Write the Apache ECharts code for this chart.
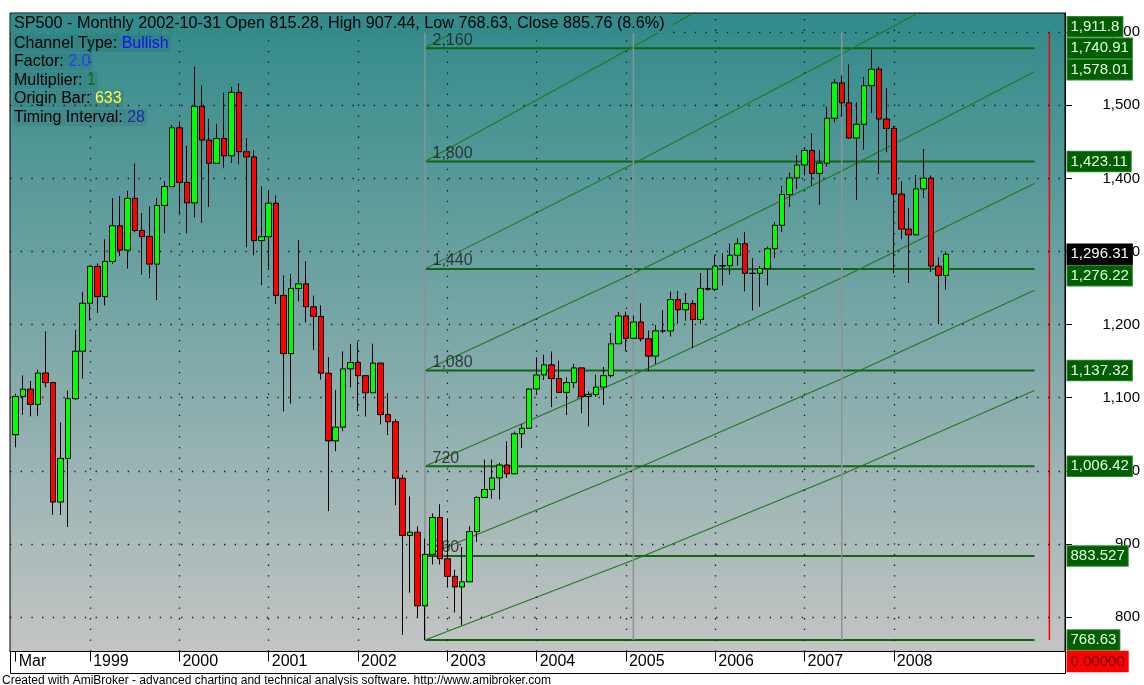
<!DOCTYPE html>
<html><head><meta charset="utf-8">
<script src="https://cdn.jsdelivr.net/npm/echarts@6/dist/echarts.min.js"></script>
<style>html,body{margin:0;padding:0;background:#fff;}#c{width:1144px;height:685px;}</style>
</head><body><div id="c"></div>
<script>
// ---- data (monthly SP500 bars, Mar 1998 .. Aug 2008; x = bar index) ----
const opens = [1049.34,1101.75,1111.75,1090.82,1133.84,1120.67,957.28,1017.01,1098.67,1163.63,
 1229.23,1279.64,1238.33,1286.37,1335.18,1301.84,1372.71,1328.72,1320.41,1282.71,1362.93,1388.91,
 1469.25,1394.46,1366.42,1498.58,1452.43,1420.60,1454.60,1430.83,1517.68,1436.51,1429.40,1314.95,
 1320.28,1366.01,1239.94,1160.33,1249.46,1255.82,1224.42,1211.23,1133.58,1040.94,1059.78,1139.45,
 1148.08,1130.20,1106.73,1147.39,1076.92,1067.14,989.82,911.62,916.07,815.28,885.76,936.31,
 879.82,855.70,841.15,848.18,916.92,963.59,974.50,990.31,1008.01,995.97,1050.71,1058.20,
 1111.92,1131.13,1144.94,1126.21,1107.30,1120.68,1140.84,1101.72,1104.24,1114.58,1130.20,1173.82,
 1211.92,1181.27,1203.60,1180.59,1156.85,1191.50,1191.33,1234.18,1220.33,1228.81,1207.01,1249.48,
 1248.29,1280.08,1280.66,1294.87,1310.61,1270.09,1270.20,1276.66,1303.82,1335.85,1377.94,1400.63,
 1418.30,1438.24,1406.82,1420.86,1482.37,1530.62,1503.35,1455.27,1473.99,1526.75,1549.38,1481.14,
 1468.36,1378.55,1330.63,1322.70,1385.59,1400.38,1280.00,1267.38];
const highs = [1105.65,1130.52,1123.01,1138.49,1190.58,1121.61,1066.11,1109.59,1192.97,1244.93,
 1280.37,1283.75,1316.55,1372.93,1375.98,1383.01,1420.33,1352.66,1361.63,1373.17,1396.12,1473.10,
 1478.00,1444.55,1552.87,1527.19,1481.51,1474.63,1517.32,1525.21,1530.09,1454.82,1438.46,1389.06,
 1383.37,1376.38,1267.42,1269.30,1315.93,1286.62,1239.78,1226.27,1155.40,1110.61,1163.38,1173.62,
 1176.55,1130.20,1173.94,1147.84,1106.59,1070.74,994.46,965.00,924.02,907.44,941.82,954.28,
 935.05,864.64,895.90,924.24,965.38,1015.33,1015.41,1011.01,1040.29,1053.79,1063.65,1112.56,
 1155.38,1158.98,1163.23,1150.57,1127.74,1146.34,1140.84,1108.60,1131.54,1142.05,1188.46,1217.33,
 1217.80,1212.44,1229.11,1191.88,1199.56,1219.59,1245.15,1245.86,1243.13,1233.34,1270.64,1275.80,
 1294.90,1297.57,1310.88,1318.16,1326.70,1290.68,1280.42,1306.74,1340.28,1389.45,1407.89,1431.81,
 1441.61,1461.57,1438.89,1498.02,1535.56,1540.56,1555.90,1503.89,1538.74,1576.09,1552.76,1523.57,
 1471.77,1396.02,1359.68,1404.57,1440.24,1404.05,1292.17,1300.00];
const lows = [1032.10,1076.70,1074.39,1074.67,1114.30,939.98,939.71,923.32,1096.85,1126.10,
 1205.46,1216.03,1226.24,1282.79,1293.72,1276.75,1326.28,1268.37,1263.47,1233.70,1325.02,1387.38,
 1350.14,1325.07,1346.62,1339.40,1361.09,1420.60,1413.89,1421.06,1419.44,1305.79,1294.90,1254.07,
 1274.62,1228.33,1081.19,1091.99,1232.00,1203.03,1165.54,1124.87,944.75,1026.76,1054.31,1114.19,
 1081.66,1074.36,1106.73,1063.46,1048.96,952.92,775.68,833.44,800.20,768.63,872.05,871.84,
 840.34,806.29,788.90,847.85,902.83,963.59,962.10,960.84,990.36,995.97,1031.20,1058.20,
 1105.08,1124.44,1087.16,1107.23,1076.32,1113.32,1078.78,1060.72,1101.29,1090.19,1127.60,1173.76,
 1163.75,1180.95,1176.92,1136.15,1146.18,1188.30,1183.55,1201.07,1205.35,1168.20,1201.07,1246.59,
 1245.74,1253.61,1268.42,1280.74,1245.34,1219.29,1224.54,1253.58,1290.93,1327.10,1360.98,1385.93,
 1403.97,1389.42,1363.98,1416.37,1476.70,1484.18,1454.25,1370.60,1439.29,1489.56,1406.10,1435.65,
 1270.05,1316.75,1256.98,1324.35,1373.07,1272.00,1200.44,1248.00];
const closes = [1101.75,1111.75,1090.82,1133.84,1120.67,957.28,1017.01,1098.67,1163.63,1229.23,
 1279.64,1238.33,1286.37,1335.18,1301.84,1372.71,1328.72,1320.41,1282.71,1362.93,1388.91,1469.25,
 1394.46,1366.42,1498.58,1452.43,1420.60,1454.60,1430.83,1517.68,1436.51,1429.40,1314.95,1320.28,
 1366.01,1239.94,1160.33,1249.46,1255.82,1224.42,1211.23,1133.58,1040.94,1059.78,1139.45,1148.08,
 1130.20,1106.73,1147.39,1076.92,1067.14,989.82,911.62,916.07,815.28,885.76,936.31,879.82,
 855.70,841.15,848.18,916.92,963.59,974.50,990.31,1008.01,995.97,1050.71,1058.20,1111.92,
 1131.13,1144.94,1126.21,1107.30,1120.68,1140.84,1101.72,1104.24,1114.58,1130.20,1173.82,1211.92,
 1181.27,1203.60,1180.59,1156.85,1191.50,1191.33,1234.18,1220.33,1228.81,1207.01,1249.48,1248.29,
 1280.08,1280.66,1294.87,1310.61,1270.09,1270.20,1276.66,1303.82,1335.85,1377.94,1400.63,1418.30,
 1438.24,1406.82,1420.86,1482.37,1530.62,1503.35,1455.27,1473.99,1526.75,1549.38,1481.14,1468.36,
 1378.55,1330.63,1322.70,1385.59,1400.38,1280.00,1267.38,1296.31];

const tickBars   = [0,10,22,34,46,58,70,82,94,106,118];
const tickLabels = ['Mar','1999','2000','2001','2002','2003','2004','2005','2006','2007','2008'];
const priceTicks = [800,900,1000,1100,1200,1300,1400,1500,1600];

// channel levels (right-hand labels) and their degree names
const levelValues = [768.63,883.527,1006.42,1137.32,1276.22,1423.11,1578.01,1740.91,1911.8];
const levelLabels = ['768.63','883.527','1,006.42','1,137.32','1,276.22','1,423.11','1,578.01','1,740.91','1,911.8'];
const levelDegrees = ['','360','720','1,080','1,440','1,800','2,160'];
const originBar = 55;          // Oct 2002
const levelEndBar = 136.9;
const timingBars = [55,83,111];
const timingTop = 1600;
const futureBar = 138.9;
const lastClose = 1296.31;
const lastCloseLabel = '1,296.31';
const zeroLabel = '0.00000';

// diagonal channel lines, points read as [bar, price]
const diag0 = [[55,768.63],[83,878],[111,995],[136.9,1110]];
const diag1 = [[55,883.527],[83,1001],[111,1126],[136.9,1247]];
const diag2 = [[55,1006.42],[83,1131],[111,1264],[136.9,1393]];
const diag3 = [[55,1137.32],[83,1270],[111,1410],[136.9,1546]];
const diag4 = [[55,1276.22],[83,1420],[111,1570],[136.9,1712]];
const diag5 = [[55,1423.11],[83,1580],[111,1740]];
const diag6 = [[55,1578.01],[83,1740.91]];
const diagonals = [diag0,diag1,diag2,diag3,diag4,diag5,diag6];

// ---- chart ----
const FONT = '"Liberation Sans", Arial, sans-serif';
const fmt = v => v.toLocaleString('en-US');
const chart = echarts.init(document.getElementById('c'), null, {renderer:'canvas'});

const series = [];
series.push({type:'line', data:[], silent:true, z:1, animation:false,
  markLine:{silent:true, symbol:'none', animation:false, label:{show:false},
    lineStyle:{color:'#141414', width:1.3, type:[1.3,9.4]},
    data: priceTicks.map(v=>({yAxis:v})).concat(tickBars.slice(1).map(b=>({xAxis:b})))}});
levelValues.forEach(v => series.push({type:'line', data:[[originBar,v],[levelEndBar,v]], symbol:'none',
  silent:true, animation:false, z:2, lineStyle:{color:'#106510', width:2}}));
diagonals.forEach(d => series.push({type:'line', data:d, symbol:'none', silent:true, animation:false, z:2,
  lineStyle:{color:'#1e781e', width:1.1}}));
timingBars.forEach(b => series.push({type:'line', data:[[b,levelValues[0]],[b,timingTop]], symbol:'none',
  silent:true, animation:false, z:2, lineStyle:{color:'#8d9292', width:1.5}}));
series.push({type:'line', data:[[futureBar,levelValues[0]],[futureBar,timingTop]], symbol:'none',
  silent:true, animation:false, z:2, lineStyle:{color:'#ff0000', width:1.5}});
series.push({type:'scatter', silent:true, animation:false, z:3, symbolSize:1, itemStyle:{color:'rgba(0,0,0,0)'},
  data: levelDegrees.map((t,i)=>[originBar, levelValues[i], t]).filter(d=>d[2]),
  label:{show:true, position:'right', distance:0, offset:[7,-8], formatter:p=>p.data[2],
    color:'#1c1c1c', fontSize:16, fontFamily:FONT}});
series.push({type:'candlestick', z:5, animation:false, silent:true,
  data: closes.map((c,i)=>[i, opens[i], c, lows[i], highs[i]]),
  encode:{x:0, y:[1,2,3,4]}, barWidth:6,
  itemStyle:{color:'#00ff00', color0:'#ff0000', borderColor:'#000', borderColor0:'#000', borderWidth:1}});

chart.setOption({
  animation:false,
  grid:{left:10, right:79, top:13, bottom:33.5, show:true, borderColor:'#000', borderWidth:1,
    backgroundColor:{type:'linear', x:0, y:0, x2:0, y2:1,
      colorStops:[{offset:0, color:'#318a8a'},{offset:1, color:'#c4c4c4'}]}},
  xAxis:{type:'value', min:-0.77, max:141.0, splitLine:{show:false},
    axisLine:{show:true, onZero:false, lineStyle:{color:'#000'}},
    axisTick:{show:true, customValues:tickBars, length:10, lineStyle:{color:'#000'}},
    axisLabel:{customValues:tickBars, formatter:v=>tickLabels[tickBars.indexOf(v)], align:'left',
      verticalAlign:'top', padding:[0,0,0,3], margin:2, fontSize:16, color:'#000', fontFamily:FONT}},
  yAxis:{type:'value', position:'right', min:752.9, max:1626.2, splitLine:{show:false},
    axisLine:{show:true, onZero:false, lineStyle:{color:'#000'}},
    axisTick:{show:true, customValues:priceTicks, length:7, lineStyle:{color:'#000'}},
    axisLabel:{customValues:priceTicks, formatter:fmt, margin:75, align:'right', fontSize:15,
      color:'#000', fontFamily:FONT}},
  series: series
});

// ---- overlay texts / price boxes ----
const py = v => chart.convertToPixel({gridIndex:0}, [0, v])[1];
const els = [];
els.push({type:'rect', z:50, silent:true, shape:{x:10.5, y:13.5, width:662, height:19.5}, style:{fill:'#328a8a'}});
els.push({type:'text', z:60, silent:true, x:14, y:15.5, style:{
  text:'SP500 - Monthly 2002-10-31 Open 815.28, High 907.44, Low 768.63, Close 885.76 (8.6%)',
  font:'16.2px '+FONT, fill:'#000', verticalAlign:'top'}});
const info = [['Channel Type: ','Bullish','#1010ff'],['Factor: ','2.0','#1f3dff'],['Multiplier: ','1','#1a6e1a'],
  ['Origin Bar: ','633','#ffff3a'],['Timing Interval: ','28','#1c2e9e']];
info.forEach((r,i)=>els.push({type:'text', z:60, silent:true, x:13, y:34.5+i*18.6, style:{
  text:'{k|'+r[0]+'}{v|'+r[1]+'}', rich:{k:{fill:'#000', font:'16px '+FONT}, v:{fill:r[2], font:'16px '+FONT}},
  backgroundColor:'rgba(0,45,60,0.10)', padding:[0,2,0,1], lineHeight:17.5, verticalAlign:'top'}}));

const boxes = levelValues.map((v,i)=>({v, t:levelLabels[i], bg:'#005e00', fg:'#e6ffe6', bd:'#2f8a2f'}));
boxes.push({v:lastClose, t:lastCloseLabel, bg:'#000000', fg:'#ffffff', bd:'#000000'});
boxes.push({v:0, t:zeroLabel, bg:'#ff0000', fg:'#6a0000', bd:'#ff0000'});
boxes.sort((a,b)=>b.v-a.v);
const H = 19.5;
let prevBottom = 15;
boxes.forEach(b=>{
  let top = Math.max(py(b.v) - H/2, prevBottom + 2);
  top = Math.min(top, 651.7);
  prevBottom = top + H;
  els.push({type:'text', z:70, silent:true, x:1067.5, y:top, style:{text:b.t, font:'15px '+FONT, fill:b.fg,
    backgroundColor:b.bg, borderColor:b.bd, borderWidth:1, padding:[2,3,2,3], lineHeight:15.5, verticalAlign:'top'}});
});
els.push({type:'polyline', z:40, silent:true, shape:{points:[[10.5,651],[10.5,673.5],[1065.5,673.5],[1065.5,651]]},
  style:{stroke:'#000', lineWidth:1, fill:null}});
els.push({type:'text', z:60, silent:true, x:2, y:674.5, style:{
  text:'Created with AmiBroker - advanced charting and technical analysis software. http://www.amibroker.com',
  font:'12px '+FONT, fill:'#000', verticalAlign:'top'}});
chart.setOption({graphic:{elements:els}});
</script></body></html>
